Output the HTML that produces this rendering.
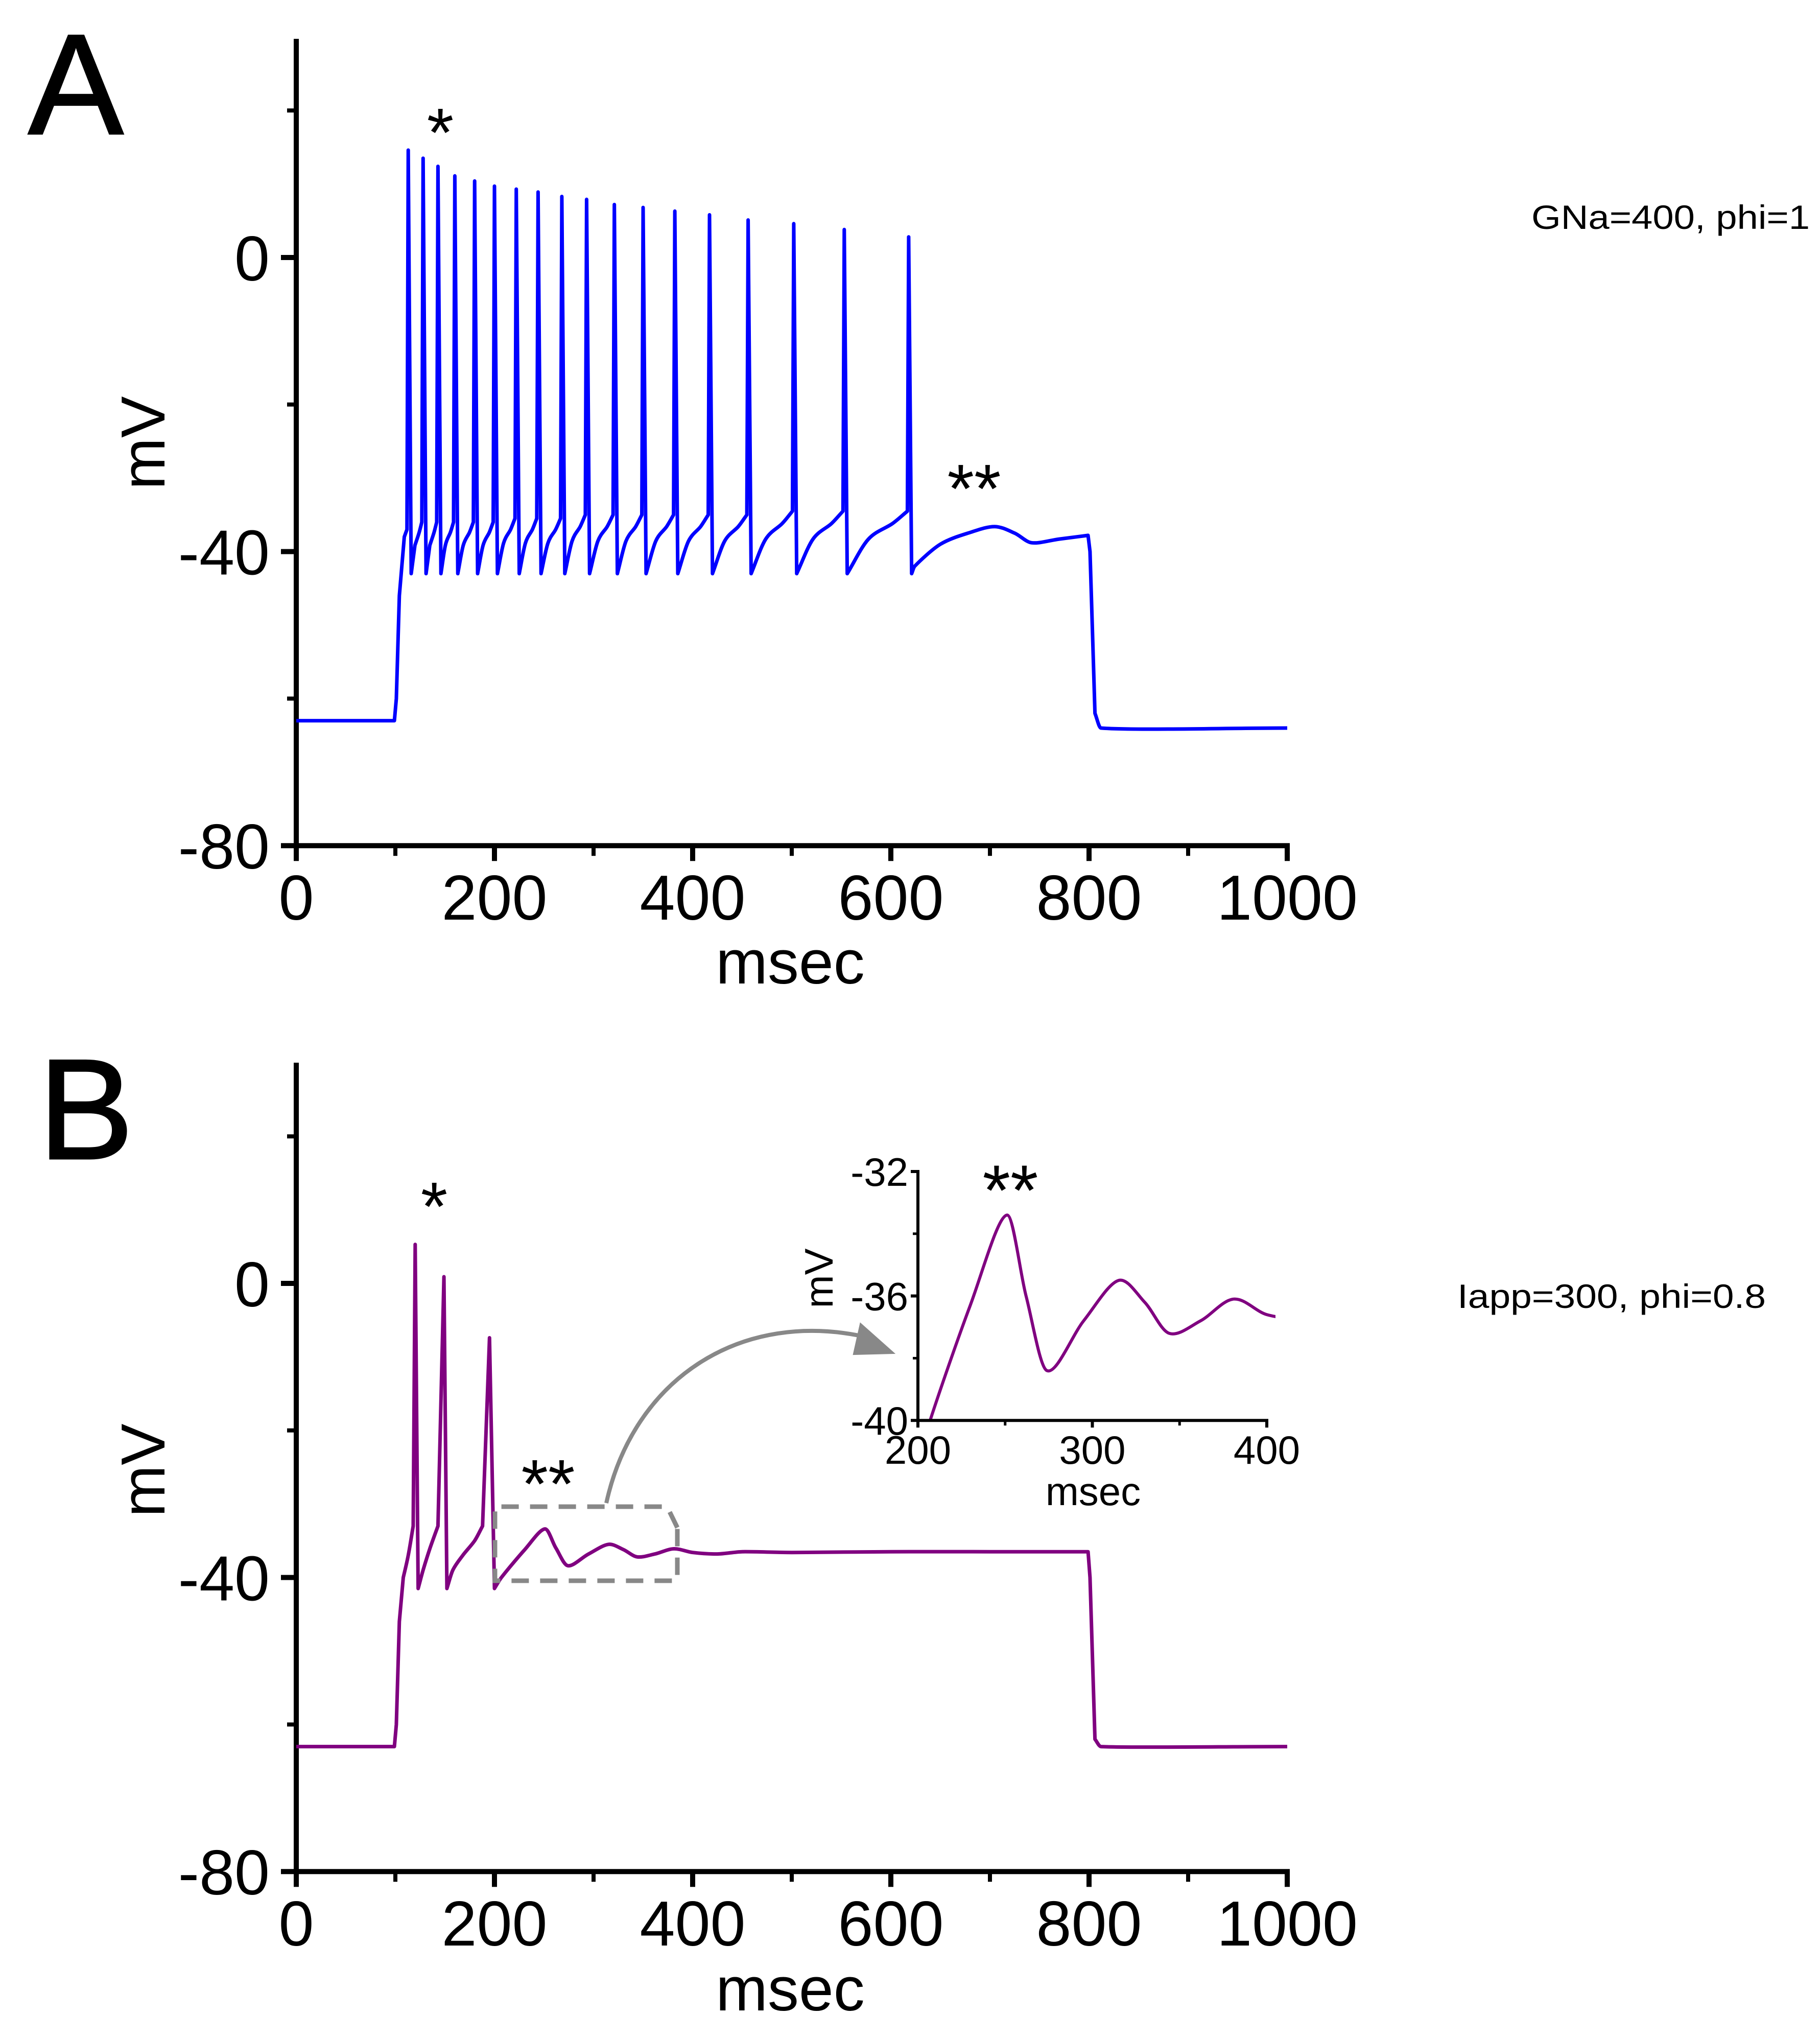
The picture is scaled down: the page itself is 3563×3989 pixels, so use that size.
<!DOCTYPE html>
<html><head><meta charset="utf-8"><style>
html,body{margin:0;padding:0;background:#fff}
svg{display:block}
text{font-family:"Liberation Sans",Arial,sans-serif;fill:#000}
</style></head><body>
<svg id="fig" width="3563" height="3989" viewBox="0 0 3563 3989" xmlns="http://www.w3.org/2000/svg">
<defs>
<clipPath id="insetClip"><rect x="1797" y="2200" width="700" height="580"/></clipPath>
</defs>
<g id="root"></g>
</svg>
<script>
// ---- Panel A data ----
const spikeTimesA = [113,128,143,160,180,200,222,244,268,293,321,350,382,417,456,502,553,618];
const spikePeaksA = [14.6,13.5,12.4,11.1,10.4,9.7,9.3,8.9,8.3,7.9,7.2,6.8,6.3,5.8,5.1,4.6,3.8,2.8];
const spikeThrA = [-37,-36,-36,-36,-36,-36,-35.5,-35.5,-35.5,-35,-35,-35,-35,-35,-35,-34.5,-34.5,-34.5];
const troughA = -43;
const preTimesA = [0,99,101,104,109];
const preValsA = [-63,-63,-60,-46,-38];
const postTimesA = [624,650,680,705,725,742,770,799,801,806,812,1000];
const postValsA = [-42,-39,-37.4,-36.6,-37.5,-38.8,-38.3,-37.8,-40,-62,-64,-64];
// ---- Panel B data ----
const timesB = [0,99,101,104,108,113,118,120,123,128,135,143,149,152,158,168,180,188,195,200,207,230,251,262,274,295,315,330,344,362,381,400,425,450,500,600,700,799,801,806,812,1000];
const valsB  = [-63,-63,-60,-46,-40,-37,-33,5.3,-41.5,-39,-36,-33,0.9,-41.5,-39,-37,-35,-33,-7.4,-41.5,-40,-36.3,-33.4,-36,-38.4,-36.8,-35.5,-36.2,-37.2,-36.8,-36.1,-36.6,-36.8,-36.5,-36.6,-36.5,-36.5,-36.5,-40,-62,-63,-63];
// ---- ticks ----
const xTickLabels = [0,200,400,600,800,1000];
const xMinorTicks = [100,300,500,700,900];
const yTickLabels = [0,-40,-80];
const yMinorTicks = [20,-20,-60];
const insetXTicks = [200,300,400];
const insetXMinor = [250,350];
const insetYTicks = [-32,-36,-40];
const insetYMinor = [-34,-38];

const NS='http://www.w3.org/2000/svg';
const root=document.getElementById('root');
function el(tag,attrs,parent){const e=document.createElementNS(NS,tag);for(const k in attrs)e.setAttribute(k,attrs[k]);(parent||root).appendChild(e);return e;}
function txt(s,attrs,parent){const e=el('text',attrs,parent);e.textContent=s;return e;}

const X0=580, PXMS=1.94, PXMV=14.39;
const xS=t=>X0+t*PXMS;
const yA=v=>504-v*PXMV;
const yB=v=>2512-v*PXMV;
const xI=t=>1797+(t-200)*3.415;
const yI=v=>2293-(v+32)*60.9;

// steepRatio: pixel slope above which a segment counts as a spike edge (~1 mV/ms)
function smoothPath(pts,steepRatio){
  const n=pts.length;
  const steep=[];
  for(let i=0;i<n-1;i++){const dx=pts[i+1][0]-pts[i][0],dy=pts[i+1][1]-pts[i][1];steep.push(Math.abs(dy)>steepRatio*Math.abs(dx));}
  const tan=[];
  for(let i=0;i<n;i++){
    const sl=i>0?steep[i-1]:true, sr=i<n-1?steep[i]:true;
    let m=[0,0];
    if(!sl&&!sr){m=[(pts[i+1][0]-pts[i-1][0])/2,(pts[i+1][1]-pts[i-1][1])/2];}
    else if(!sr&&i<n-1){m=[(pts[i+1][0]-pts[i][0]),(pts[i+1][1]-pts[i][1])];}
    else if(!sl&&i>0){m=[(pts[i][0]-pts[i-1][0]),(pts[i][1]-pts[i-1][1])];}
    tan.push(m);
  }
  let d='M'+pts[0][0].toFixed(1)+','+pts[0][1].toFixed(1);
  for(let i=0;i<n-1;i++){
    const p1=pts[i],p2=pts[i+1];
    if(steep[i]){d+=' L'+p2[0].toFixed(1)+','+p2[1].toFixed(1);continue;}
    const seg=p2[0]-p1[0];
    let s1=tan[i][0]>0?Math.min(1,seg/tan[i][0]):1;
    let s2=tan[i+1][0]>0?Math.min(1,seg/tan[i+1][0]):1;
    const c1=[p1[0]+tan[i][0]*s1/3,p1[1]+tan[i][1]*s1/3];
    const c2=[p2[0]-tan[i+1][0]*s2/3,p2[1]-tan[i+1][1]*s2/3];
    d+=' C'+c1[0].toFixed(1)+','+c1[1].toFixed(1)+' '+c2[0].toFixed(1)+','+c2[1].toFixed(1)+' '+p2[0].toFixed(1)+','+p2[1].toFixed(1);
  }
  return d;
}

function axes(panel,yFn,top){
  const g=el('g',{});
  
  
  const yb=yFn(-80);
  const ya=el('line',{x1:X0,y1:top,x2:X0,y2:yb+4,stroke:'#000','stroke-width':10},g);
  
  
  const xa=el('line',{x1:X0-5,y1:yb,x2:xS(1000)+5,y2:yb,stroke:'#000','stroke-width':10},g);
  
  
  xTickLabels.forEach(t=>{
    el('line',{x1:xS(t),y1:yb,x2:xS(t),y2:yb+30,stroke:'#000','stroke-width':10},g);
    const l=txt(String(t),{x:xS(t),y:yb+145,'font-size':124,'text-anchor':'middle'},g);
    
    
  });
  xMinorTicks.forEach(t=>el('line',{x1:xS(t),y1:yb,x2:xS(t),y2:yb+20,stroke:'#000','stroke-width':8},g));
  yTickLabels.forEach(v=>{
    el('line',{x1:X0-30,y1:yFn(v),x2:X0,y2:yFn(v),stroke:'#000','stroke-width':10},g);
    const l=txt(v===0?'0':String(v),{x:X0-52,y:yFn(v)+45,'font-size':124,'text-anchor':'end'},g);
    
    
  });
  yMinorTicks.forEach(v=>el('line',{x1:X0-18,y1:yFn(v),x2:X0,y2:yFn(v),stroke:'#000','stroke-width':8},g));
}

const MAIN_STEEP=PXMV/PXMS;
const INSET_STEEP=60.9/3.415;

// Panel A
axes('panel-a',yA,76);
(function(){
  const pts=[];
  for(let i=0;i<preTimesA.length;i++)pts.push([xS(preTimesA[i]),yA(preValsA[i])]);
  for(let i=0;i<spikeTimesA.length;i++){
    const t=spikeTimesA[i];
    if(i>0){
      const prevTr=spikeTimesA[i-1]+3, preT=t-1.3;
      const gap=preT-prevTr;
      if(gap>8){pts.push([xS(prevTr+gap*0.35),yA(troughA+(spikeThrA[i]-troughA)*0.55)]);
        pts.push([xS(prevTr+gap*0.75),yA(troughA+(spikeThrA[i]-troughA)*0.8)]);}
    }
    pts.push([xS(t-1.3),yA(spikeThrA[i])]);
    pts.push([xS(t),yA(spikePeaksA[i])]);
    pts.push([xS(t+3),yA(troughA)]);
  }
  for(let i=0;i<postTimesA.length;i++)pts.push([xS(postTimesA[i]),yA(postValsA[i])]);
  const p=el('path',{d:smoothPath(pts,MAIN_STEEP),fill:'none',stroke:'#0000ff','stroke-width':7,'stroke-linejoin':'round'});
  
  
})();

// Panel B
axes('panel-b',yB,2080);
(function(){
  const pts=timesB.map((t,i)=>[xS(t),yB(valsB[i])]);
  const p=el('path',{d:smoothPath(pts,MAIN_STEEP),fill:'none',stroke:'#800080','stroke-width':7,'stroke-linejoin':'round'});
  
  
  // inset
  const ig=el('g',{});
  
  
  const ipts=[];
  timesB.forEach((t,i)=>{if(t>=200&&t<=425)ipts.push([xI(t),yI(valsB[i])]);});
  const ip=el('path',{d:smoothPath(ipts,INSET_STEEP),fill:'none',stroke:'#800080','stroke-width':6,'clip-path':'url(#insetClip)'},ig);
  
  
  const iy=el('line',{x1:xI(200),y1:yI(-32)-3,x2:xI(200),y2:yI(-40)+4,stroke:'#000','stroke-width':6},ig);
  
  
  const ix=el('line',{x1:xI(200)-3,y1:yI(-40),x2:xI(400)+3,y2:yI(-40),stroke:'#000','stroke-width':6},ig);
  
  
  insetXTicks.forEach(t=>{el('line',{x1:xI(t),y1:yI(-40),x2:xI(t),y2:yI(-40)+14,stroke:'#000','stroke-width':6},ig);
    const l=txt(String(t),{x:xI(t),y:2865,'font-size':78,'text-anchor':'middle'},ig);
    
    });
  insetXMinor.forEach(t=>el('line',{x1:xI(t),y1:yI(-40),x2:xI(t),y2:yI(-40)+10,stroke:'#000','stroke-width':5},ig));
  insetYTicks.forEach(v=>{el('line',{x1:xI(200)-14,y1:yI(v),x2:xI(200),y2:yI(v),stroke:'#000','stroke-width':6},ig);
    const l=txt(String(v),{x:1778,y:yI(v)+28,'font-size':78,'text-anchor':'end'},ig);
    
    });
  insetYMinor.forEach(v=>el('line',{x1:xI(200)-10,y1:yI(v),x2:xI(200),y2:yI(v),stroke:'#000','stroke-width':5},ig));
  const im=txt('msec',{x:2140,y:2946,'font-size':78,'text-anchor':'middle'},ig);
  
  
  const iv=txt('mV',{x:0,y:0,'font-size':78,'text-anchor':'middle',transform:'translate(1630,2502) rotate(-90)'},ig);
  
  
  const is=txt('**',{x:1978,y:2378,'font-size':140,'text-anchor':'middle'},ig);
  
  
})();
</script>
<script>
const svg=document.getElementById('root');
function add(tag,attrs,name,content){const e=document.createElementNS('http://www.w3.org/2000/svg',tag);for(const k in attrs)e.setAttribute(k,attrs[k]);if(content!==undefined)e.textContent=content;svg.appendChild(e);


return e;}
add('text',{x:55,y:262,'font-size':280,stroke:'#000','stroke-width':3},'panel-a-label','A');
add('text',{x:75,y:2268,'font-size':280,stroke:'#000','stroke-width':3},'panel-b-label','B');
add('text',{x:0,y:0,'font-size':122,'text-anchor':'middle',transform:'translate(322,867) rotate(-90)'},'panel-a-y-axis-title','mV');
add('text',{x:0,y:0,'font-size':122,'text-anchor':'middle',transform:'translate(322,2878) rotate(-90)'},'panel-b-y-axis-title','mV');
add('text',{x:1547,y:1925,'font-size':122,'text-anchor':'middle'},'panel-a-x-axis-title','msec');
add('text',{x:1547,y:3935,'font-size':122,'text-anchor':'middle'},'panel-b-x-axis-title','msec');
add('text',{x:2998,y:448,'font-size':66,textLength:545,lengthAdjust:'spacingAndGlyphs'},'panel-a-parameters','GNa=400, phi=1');
add('text',{x:2853,y:2560,'font-size':66,textLength:604,lengthAdjust:'spacingAndGlyphs'},'panel-b-parameters','Iapp=300, phi=0.8');
add('text',{x:862,y:306,'font-size':135,'text-anchor':'middle'},'panel-a-asterisk','*');
add('text',{x:1907,y:1003,'font-size':135,'text-anchor':'middle'},'panel-a-double-asterisk','**');
add('text',{x:850,y:2408,'font-size':135,'text-anchor':'middle'},'panel-b-asterisk','*');
add('text',{x:1073,y:2951,'font-size':135,'text-anchor':'middle'},'panel-b-double-asterisk','**');
add('path',{d:'M1326,2990 L1306,2949 L969,2949 L969,3094 L1326,3094 Z',fill:'none',stroke:'#888','stroke-width':9,'stroke-dasharray':'34 22'},'zoom-region-box');
add('path',{d:'M1187,2942 C1240,2700 1450,2560 1700,2618',fill:'none',stroke:'#888','stroke-width':8},'zoom-arrow-curve');
add('path',{d:'M1748,2648 L1685,2592 L1672,2650 Z',fill:'#888',stroke:'#888','stroke-width':4},'zoom-arrow-head');
</script>
</body></html>
